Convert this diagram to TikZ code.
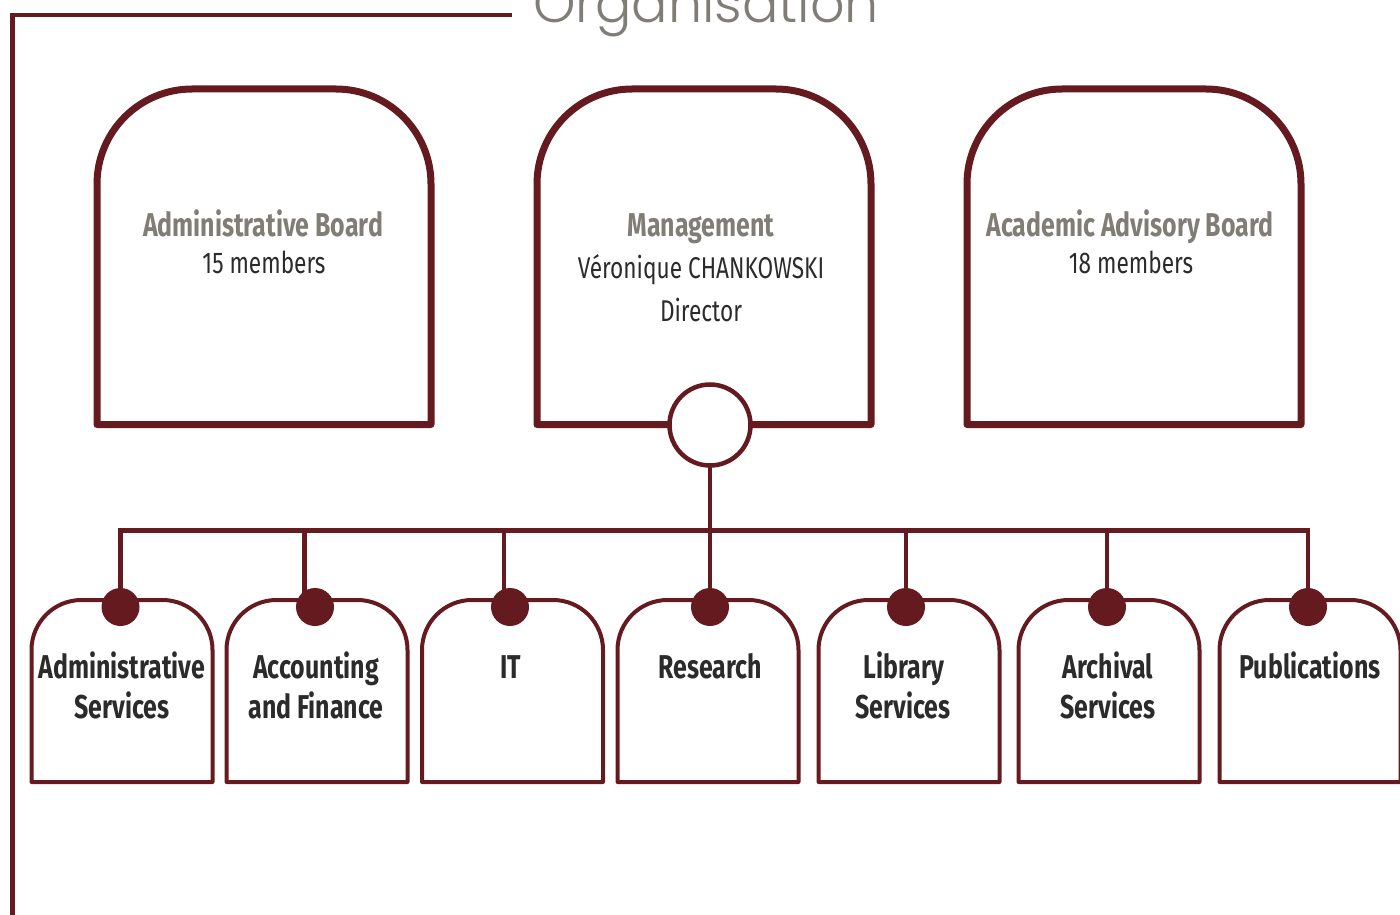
\documentclass[tikz,border=0pt]{standalone}
\usepackage{fontspec}
\setmainfont{Fira Sans}
\newfontfamily\condfont{Fira Sans}[FakeStretch=0.755]
\newfontfamily\titlefont{Poppins}[UprightFont={* Light}]
\definecolor{maroon}{HTML}{651A1F}
\definecolor{headgray}{HTML}{7F7D76}
\definecolor{ink}{HTML}{2B2B2B}
\newcommand\archbox[3]{\draw[#1] (#2.south west) -- ([yshift=-#3]#2.north west) arc[start angle=180,end angle=90,radius=#3] -- ([xshift=-#3]#2.north east) arc[start angle=90,end angle=0,radius=#3] -- (#2.south east) -- cycle;}
\begin{document}
\begin{tikzpicture}[x=1pt,y=-1pt,
  every node/.style={inner sep=0pt,outer sep=0pt},
  frame/.style={draw=maroon,line width=4.5pt},
  bigbox/.style={draw=maroon,line width=7pt,line join=round},
  smallbox/.style={draw=maroon,line width=4pt,line join=round},
  link/.style={draw=maroon,line width=4.5pt},
  bigarea/.style={minimum width=334pt,minimum height=335.5pt},
  smallarea/.style={minimum width=181pt,minimum height=182pt},
  hub/.style={circle,draw=maroon,fill=white,line width=4.5pt,minimum size=81pt},
  dot/.style={circle,fill=maroon,minimum size=38pt},
  headtxt/.style={anchor=base,text=headgray,font=\condfont\bfseries\fontsize{33}{36}\selectfont},
  membtxt/.style={anchor=base,text=ink,font=\condfont\fontsize{30}{34}\selectfont},
  unittxt/.style={anchor=base,text=ink,font=\condfont\bfseries\fontsize{33}{36}\selectfont},
  titletxt/.style={anchor=base west,text=headgray,font=\titlefont\fontsize{54}{60}\selectfont}
]
\useasboundingbox (0,0) rectangle (1400,915);
\clip (0,0) rectangle (1400,915);

% frame and title
\coordinate (fe) at (512,15);
\coordinate (fc) at (12.5,15);
\coordinate (fb) at (12.5,920);
\draw[frame] (fe) -- (fc) -- (fb);
\node[titletxt] (title) at (533,23) {Organisation};

% top boxes
\node[bigarea] (adm) at (264,256.75) {};
\node[bigarea] (mgt) at (704,256.75) {};
\node[bigarea] (aca) at (1134,256.75) {};
\archbox{bigbox}{adm}{95pt}
\archbox{bigbox}{mgt}{95pt}
\archbox{bigbox}{aca}{95pt}

\node[headtxt] (adm-h) at (263,236) {Administrative Board};
\node[membtxt] (adm-m) at (264,273) {15 members};
\node[headtxt] (mgt-h) at (701,236) {Management};
\node[membtxt] (mgt-n) at (701,278) {Véronique CHANKOWSKI};
\node[membtxt] (mgt-d) at (701,321) {Director};
\node[headtxt] (aca-h) at (1130,236) {Academic Advisory Board};
\node[membtxt] (aca-m) at (1131,273) {18 members};

% bottom boxes
\node[smallarea] (u1) at (122,691) {};
\node[smallarea] (u2) at (317,691) {};
\node[smallarea] (u3) at (512.5,691) {};
\node[smallarea] (u4) at (708,691) {};
\node[smallarea] (u5) at (909,691) {};
\node[smallarea] (u6) at (1109,691) {};
\node[smallarea] (u7) at (1310,691) {};
\foreach \u in {u1,u2,u3,u4,u5,u6,u7}{\archbox{smallbox}{\u}{50pt}}

% hub and connectors
\node[hub] (hub) at (710,425) {};
\coordinate (d1) at (120.5,607);
\coordinate (d2) at (315,607);
\coordinate (d3) at (510,607);
\coordinate (d4) at (710,607);
\coordinate (d5) at (906,607);
\coordinate (d6) at (1107,607);
\coordinate (d7) at (1308,607);
\coordinate (b1) at (120.5,530.5);
\coordinate (b2) at (304.5,530.5);
\coordinate (b3) at (504,530.5);
\coordinate (b4) at (710,530.5);
\coordinate (b5) at (906,530.5);
\coordinate (b6) at (1107,530.5);
\coordinate (b7) at (1308,530.5);
\draw[link] (d1) -- (b1) -- (b7) -- (d7);
\draw[link] (hub.south) -- (d4);
\draw[link] (b2) -- (b2 |- d2);
\draw[link] (b3) -- (b3 |- d3);
\draw[link] (b5) -- (d5);
\draw[link] (b6) -- (d6);
\node[dot] (n1) at (d1) {};
\node[dot] (n2) at (d2) {};
\node[dot] (n3) at (d3) {};
\node[dot] (n4) at (d4) {};
\node[dot] (n5) at (d5) {};
\node[dot] (n6) at (d6) {};
\node[dot] (n7) at (d7) {};

% unit labels
\node[unittxt] (t1a) at (122,678) {Administrative};
\node[unittxt] (t1b) at (122,718) {Services};
\node[unittxt] (t2a) at (316,678) {Accounting};
\node[unittxt] (t2b) at (316,718) {and Finance};
\node[unittxt] (t3) at (511,678) {IT};
\node[unittxt] (t4) at (710,678) {Research};
\node[unittxt] (t5a) at (904,678) {Library};
\node[unittxt] (t5b) at (903,718) {Services};
\node[unittxt] (t6a) at (1108,678) {Archival};
\node[unittxt] (t6b) at (1108,718) {Services};
\node[unittxt] (t7) at (1310,678) {Publications};
\end{tikzpicture}
\end{document}
